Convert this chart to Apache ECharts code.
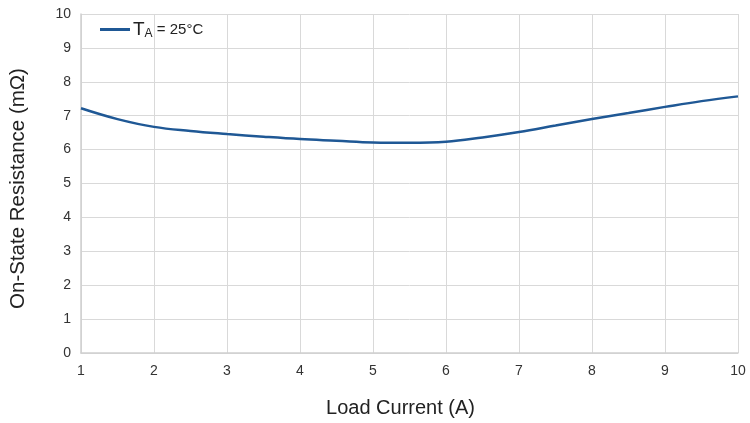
<!DOCTYPE html>
<html><head><meta charset="utf-8">
<script src="https://cdn.jsdelivr.net/npm/echarts@6/dist/echarts.min.js"></script>
<style>html,body{margin:0;padding:0;background:#fff}#c{width:750px;height:423px}</style>
</head><body><div id="c"></div>
<script>
const loadCurrent = [1, 1.5, 2, 2.5, 3, 3.5, 4, 4.5, 5, 5.5, 6, 6.5, 7, 7.5, 8, 8.5, 9, 9.5, 10];
const resistance = [7.22, 6.9, 6.67, 6.55, 6.46, 6.38, 6.31, 6.26, 6.21, 6.2, 6.23, 6.36, 6.52, 6.71, 6.9, 7.08, 7.26, 7.43, 7.57];
const xTicks = [1,2,3,4,5,6,7,8,9,10];
const yTicks = [0,1,2,3,4,5,6,7,8,9,10];
const seriesName = 'TA = 25°C';

const chart = echarts.init(document.getElementById('c'));
const font = 'Liberation Sans, Arial, sans-serif';
chart.setOption({
  animation: false,
  grid: {left: 81, right: 12, top: 14, bottom: 69},
  legend: {
    left: 95, top: 15, itemWidth: 30, itemHeight: 3, itemGap: 4,
    icon: 'rect',
    data: [seriesName],
    formatter: () => '{t|T}{s|A}{r| = 25°C}',
    textStyle: {
      fontFamily: font, color: '#222', padding: [0,0,0,-2],
      rich: {
        t: {fontSize: 19, fontFamily: font, color: '#222'},
        s: {fontSize: 12, fontFamily: font, color: '#222', verticalAlign: 'bottom', padding:[9,0,0,0]},
        r: {fontSize: 15, fontFamily: font, color: '#222'}
      }
    }
  },
  xAxis: {
    type: 'value', min: 1, max: 10, interval: 1,
    name: 'Load Current (A)', nameLocation: 'middle', nameGap: 45,
    nameTextStyle: {fontFamily: font, fontSize: 20, color: '#222', padding: [0, 18, 0, 0]},
    axisLine: {show: true, lineStyle: {color: '#cfcfcf', width: 1.5}},
    axisTick: {show: false},
    axisLabel: {fontFamily: font, fontSize: 14, color: '#333', margin: 11},
    splitLine: {show: true, lineStyle: {color: '#d9d9d9', width: 1}}
  },
  yAxis: {
    type: 'value', min: 0, max: 10, interval: 1,
    name: 'On-State Resistance (mΩ)', nameLocation: 'middle', nameGap: 52,
    nameTextStyle: {fontFamily: font, fontSize: 20.5, color: '#222', padding: [0, 10, 0, 0]},
    axisLine: {show: true, lineStyle: {color: '#cfcfcf', width: 1.5}},
    axisTick: {show: false},
    axisLabel: {fontFamily: font, fontSize: 14, color: '#333', margin: 10},
    splitLine: {show: true, lineStyle: {color: '#d9d9d9', width: 1}}
  },
  series: [{
    name: seriesName, type: 'line', smooth: 0.4, showSymbol: false,
    lineStyle: {color: '#1f5895', width: 2.5},
    itemStyle: {color: '#1f5895'},
    data: loadCurrent.map((x, i) => [x, resistance[i]])
  }]
});
</script></body></html>
